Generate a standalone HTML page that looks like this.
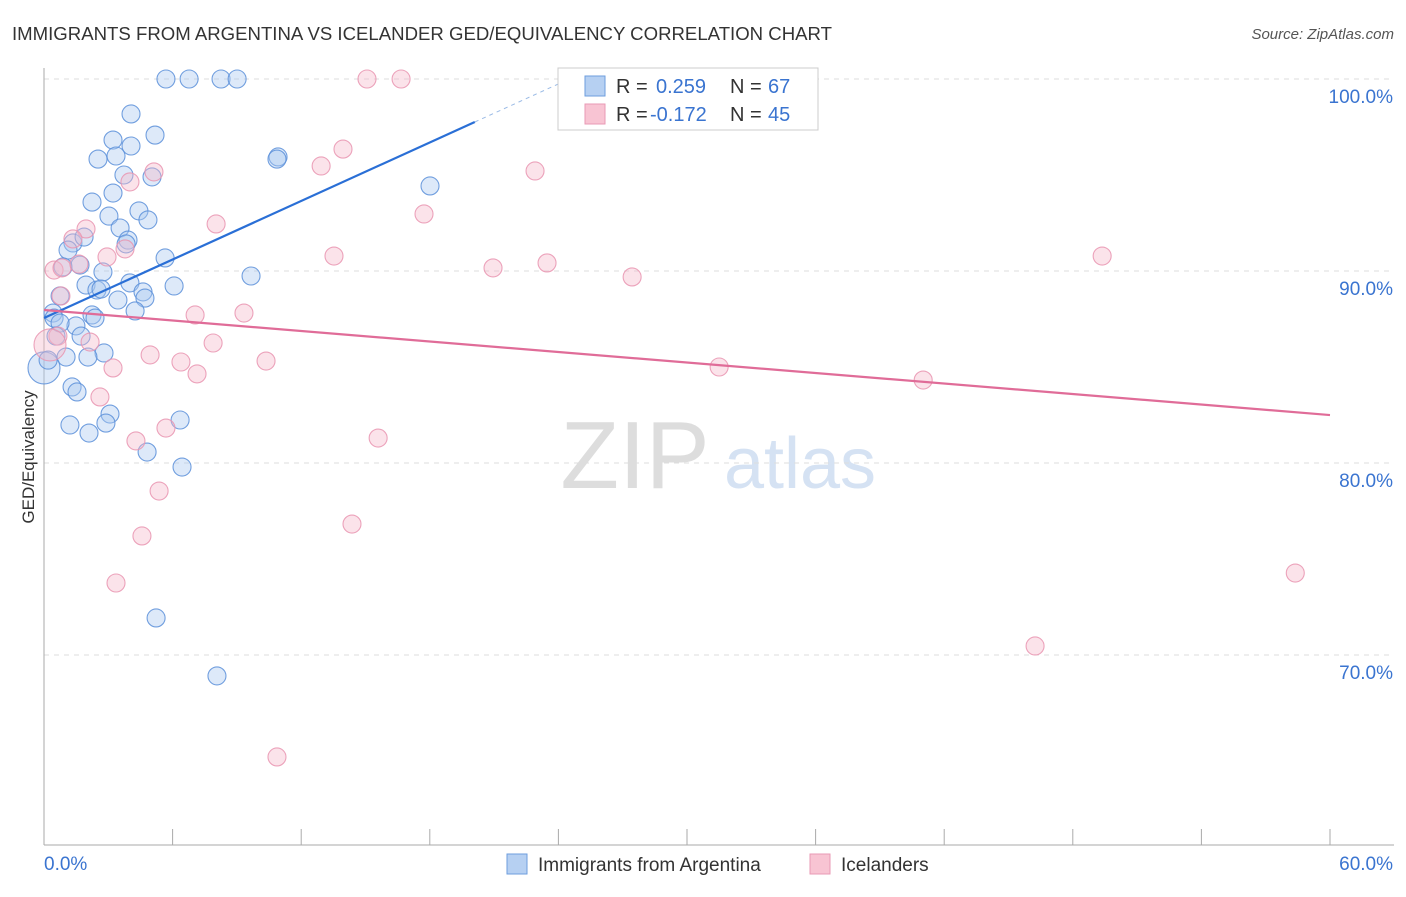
<!DOCTYPE html>
<html><head><meta charset="utf-8"><style>
body{margin:0;background:#fff;font-family:"Liberation Sans",sans-serif}
svg text{font-family:"Liberation Sans",sans-serif}
</style></head><body>
<svg id="chart" width="1406" height="892" xmlns="http://www.w3.org/2000/svg">
<text x="12" y="40" font-size="18.6" fill="#333">IMMIGRANTS FROM ARGENTINA VS ICELANDER GED/EQUIVALENCY CORRELATION CHART</text>
<text x="1394" y="39" font-size="15" fill="#555" text-anchor="end" font-style="italic">Source: ZipAtlas.com</text>
<g>
<text x="635" y="488" font-size="96" fill="#ddd" font-family="Liberation Serif" text-anchor="middle">ZIP</text>
<text x="800" y="488" font-size="72" fill="#d5e2f3" text-anchor="middle">atlas</text>
</g>
<g id="grid"></g><g id="axes"></g><g id="pts"></g><g id="trends"></g>
<g>
<rect x="558" y="68" width="260" height="62" fill="#fff" stroke="#ccc"/>
<rect x="585" y="76" width="20" height="20" fill="#b6d0f2" stroke="#6e9ede"/>
<text x="616" y="93" font-size="20" fill="#333">R = </text><text x="656" y="93" font-size="20" fill="#3a74d0">0.259</text>
<text x="730" y="93" font-size="20" fill="#333">N = </text><text x="768" y="93" font-size="20" fill="#3a74d0">67</text>
<rect x="585" y="104" width="20" height="20" fill="#f8c4d3" stroke="#e99ab4"/>
<text x="616" y="121" font-size="20" fill="#333">R = </text><text x="650" y="121" font-size="20" fill="#3a74d0">-0.172</text>
<text x="730" y="121" font-size="20" fill="#333">N = </text><text x="768" y="121" font-size="20" fill="#3a74d0">45</text>
</g>
<g>
<rect x="507" y="854" width="20" height="20" fill="#b6d0f2" stroke="#6e9ede"/>
<text x="538" y="871" font-size="19" fill="#333">Immigrants from Argentina</text>
<rect x="810" y="854" width="20" height="20" fill="#f8c4d3" stroke="#e99ab4"/>
<text x="841" y="871" font-size="19" fill="#333">Icelanders</text>
</g>
<text transform="translate(34,457) rotate(-90)" font-size="17" fill="#333" text-anchor="middle">GED/Equivalency</text>
</svg>
<script>
const yTicks=[100,90,80,70];
const yTickLabels=["100.0%","90.0%","80.0%","70.0%"];
const xTickLabels=["0.0%","60.0%"];
const blueX=[5.69,6.77,8.26,9.01,4.06,3.22,5.18,4.06,3.36,2.52,10.92,10.87,3.73,5.04,18.01,3.22,2.24,4.43,3.03,4.85,3.55,3.92,3.83,1.35,1.87,1.12,5.65,0.89,1.68,2.75,9.66,1.96,4.01,2.47,2.66,6.07,4.62,4.71,3.45,0.75,4.25,2.24,2.38,0.42,0.47,1.49,0.75,1.73,0.56,2.80,2.05,1.03,0,0.19,1.31,1.54,3.08,2.89,1.21,2.10,6.35,4.81,6.44,5.23,8.07];
const blueY=[100,100,100,100,98.18,96.82,97.08,96.51,95.99,95.83,95.94,95.83,95.0,94.9,94.43,94.06,93.59,93.13,92.86,92.66,92.24,91.61,91.41,91.46,91.77,91.09,90.68,90.21,90.31,89.95,89.74,89.27,89.38,89.01,89.06,89.22,88.91,88.59,88.49,88.7,87.92,87.71,87.55,87.81,87.55,87.14,87.29,86.61,86.61,85.73,85.52,85.52,84.95,85.36,83.96,83.7,82.55,82.08,81.98,81.56,82.24,80.57,79.79,71.93,68.91];
const pinkX=[15.07,16.66,13.95,12.93,5.13,4.01,22.91,17.73,8.03,1.96,1.35,13.53,2.94,3.78,20.95,23.47,27.44,49.37,0.47,0.84,1.63,0.79,7.05,9.33,0.65,2.15,7.89,4.95,6.39,10.36,7.14,3.22,31.5,41.02,2.61,15.59,4.29,5.69,5.37,14.37,4.57,3.36,58.38,46.24,10.87,0.28];
const pinkY=[100,100,96.35,95.47,95.16,94.64,95.21,92.97,92.45,92.19,91.67,90.78,90.73,91.15,90.16,90.42,89.69,90.78,90.05,90.16,90.36,88.7,87.71,87.81,86.61,86.3,86.25,85.63,85.26,85.31,84.64,84.95,85.0,84.32,83.44,81.3,81.15,81.82,78.54,76.82,76.2,73.75,74.27,70.47,64.69,86.15];
const blueTrend=[87.55,0.508]; // intercept, slope
const pinkTrend=[87.97,-0.0912];
const NS="http://www.w3.org/2000/svg";
const X=v=>44+v*1286/60, Y=v=>79+(100-v)*19.2;
function mk(t,a,p){const e=document.createElementNS(NS,t);for(const k in a)e.setAttribute(k,a[k]);document.getElementById(p).appendChild(e);return e;}
yTicks.forEach((t,i)=>{
 const l=mk('line',{x1:44,x2:1394,y1:Y(t),y2:Y(t),stroke:'#ddd','stroke-dasharray':'5,5'},'grid');
 
 
 const tx=mk('text',{x:1393,y:Y(t)+24,'font-size':19,fill:'#3a74d0','text-anchor':'end'},'axes');
 tx.textContent=yTickLabels[i];
 
 
});
let ax=mk('line',{x1:44,x2:44,y1:68,y2:845,stroke:'#aaa'},'axes');


ax=mk('line',{x1:44,x2:1394,y1:845,y2:845,stroke:'#aaa'},'axes');


for(let i=1;i<=10;i++){const t=mk('line',{x1:X(i*6),x2:X(i*6),y1:829,y2:845,stroke:'#aaa'},'axes');
 
 }
[[0,44,'start'],[1,1393,'end']].forEach(([i,x,a])=>{const t=mk('text',{x:x,y:870,'font-size':19,fill:'#3a74d0','text-anchor':a},'axes');t.textContent=xTickLabels[i];
 
 });
function pts(xs,ys,fill,stroke,name){xs.forEach((x,i)=>{const big=(x<0.3&&(ys[i]===84.95||ys[i]===86.15));
 const c=mk('circle',{cx:X(x),cy:Y(ys[i]),r:big?16:9,fill:fill,'fill-opacity':0.4,stroke:stroke,'stroke-width':1.1,'stroke-opacity':0.85},'pts');
 
 });}
pts(blueX,blueY,'#a9c8f0','#5b8fd9','point-argentina');
pts(pinkX,pinkY,'#f6b8cb','#e994b0','point-icelander');
let l=mk('line',{x1:X(0),y1:Y(blueTrend[0]),x2:X(20.1),y2:Y(blueTrend[0]+blueTrend[1]*20.1),stroke:'#2a6fd6','stroke-width':2.2},'trends');


l=mk('line',{x1:X(20.1),y1:Y(blueTrend[0]+blueTrend[1]*20.1),x2:X(24.5),y2:Y(blueTrend[0]+blueTrend[1]*24.5),stroke:'#9bbbe6','stroke-width':1,'stroke-dasharray':'4,4'},'trends');


l=mk('line',{x1:X(0),y1:Y(pinkTrend[0]),x2:X(60),y2:Y(pinkTrend[0]+pinkTrend[1]*60),stroke:'#e06c98','stroke-width':2.2},'trends');


</script>
</body></html>
